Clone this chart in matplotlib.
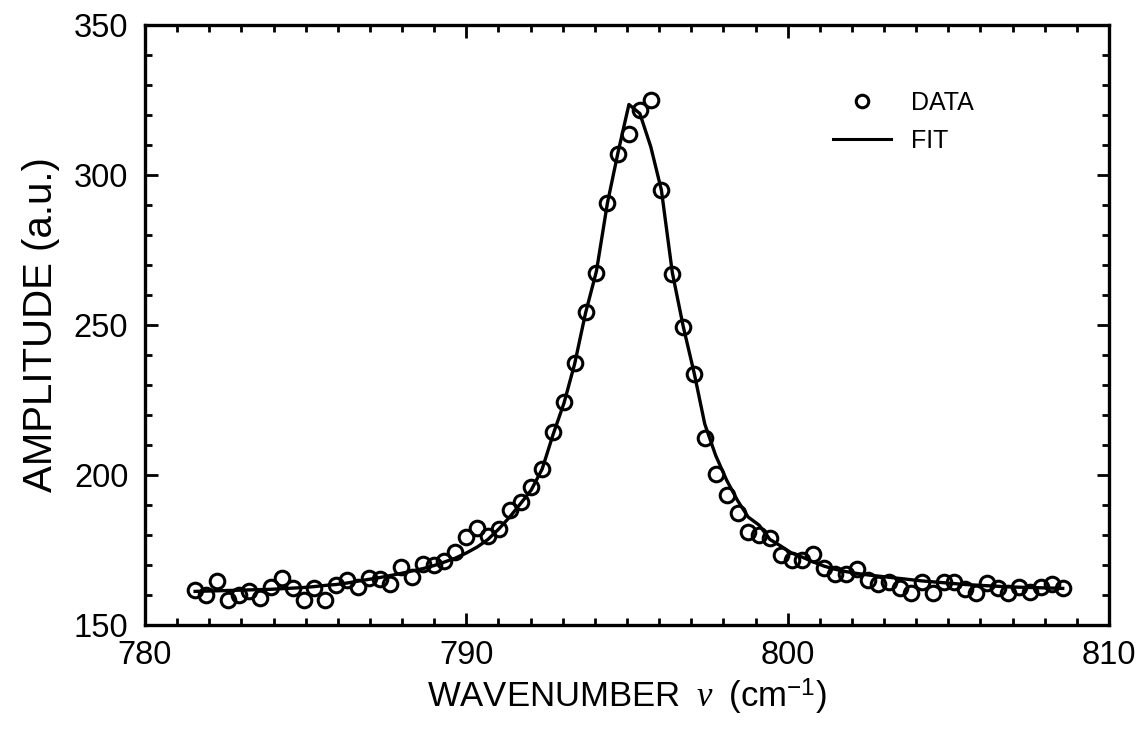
import matplotlib
matplotlib.use("Agg")
import matplotlib.pyplot as plt
from matplotlib.lines import Line2D

plt.rcParams['font.family'] = ['Liberation Sans', 'DejaVu Sans']
plt.rcParams['mathtext.fontset'] = 'custom'
plt.rcParams['mathtext.rm'] = 'Liberation Sans'
plt.rcParams['mathtext.it'] = 'Liberation Serif:italic'

# wavenumber (cm^-1) of each measured point
wavenumber = [
    781.56, 781.90, 782.24, 782.57, 782.91, 783.25, 783.59, 783.92, 784.26, 784.60,
    784.94, 785.27, 785.61, 785.95, 786.29, 786.62, 786.96, 787.30, 787.64, 787.97,
    788.31, 788.65, 788.99, 789.32, 789.66, 790.00, 790.34, 790.67, 791.01, 791.35,
    791.69, 792.02, 792.36, 792.70, 793.04, 793.37, 793.71, 794.05, 794.39, 794.72,
    795.06, 795.40, 795.74, 796.07, 796.41, 796.75, 797.09, 797.42, 797.76, 798.10,
    798.44, 798.77, 799.11, 799.45, 799.79, 800.12, 800.46, 800.80, 801.14, 801.47,
    801.81, 802.15, 802.49, 802.82, 803.16, 803.50, 803.84, 804.17, 804.51, 804.85,
    805.19, 805.52, 805.86, 806.20, 806.54, 806.87, 807.21, 807.55, 807.89, 808.22,
    808.56,
]

# measured amplitude (a.u.)
data_amplitude = [
    161.7, 160.0, 164.8, 158.2, 160.0, 161.2, 159.0, 162.7, 165.8, 162.5,
    158.3, 162.5, 158.3, 163.4, 165.0, 162.8, 165.6, 165.3, 163.8, 169.4,
    166.1, 170.2, 170.0, 171.4, 174.4, 179.4, 182.2, 179.6, 182.0, 188.3,
    191.1, 196.1, 202.1, 214.2, 224.2, 237.2, 254.4, 267.2, 290.6, 307.0,
    313.8, 321.7, 325.0, 295.0, 267.0, 249.4, 233.8, 212.2, 200.2, 193.2,
    187.2, 181.1, 180.0, 179.0, 173.3, 171.7, 171.7, 173.8, 169.1, 166.9,
    166.9, 168.7, 165.0, 163.7, 164.4, 162.2, 160.8, 164.4, 160.8, 164.4,
    164.4, 161.9, 160.8, 163.9, 162.2, 160.8, 162.8, 161.1, 162.6, 163.7,
    162.2,
]

# fitted curve, evaluated at the same wavenumbers
fit_amplitude = [
    161.2, 161.3, 161.4, 161.5, 161.6, 161.7, 161.8, 161.9, 162.1, 162.3,
    162.5, 162.8, 163.2, 163.5, 164.0, 164.6, 165.2, 165.8, 166.5, 167.2,
    168.0, 168.8, 169.8, 171.0, 172.3, 174.0, 176.0, 178.5, 182.0, 186.0,
    190.5, 195.0, 202.0, 213.5, 224.0, 237.0, 254.0, 268.0, 290.6, 307.5,
    323.5, 320.5, 309.4, 295.0, 267.5, 249.5, 234.0, 217.0, 206.5, 198.3,
    191.5, 186.0, 183.3, 178.5, 176.3, 174.0, 172.6, 171.0, 169.6, 168.6,
    167.8, 167.2, 166.7, 166.3, 165.9, 165.5, 165.1, 164.7, 164.4, 164.1,
    163.8, 163.5, 163.3, 163.1, 162.9, 162.7, 162.6, 162.5, 162.4, 162.3,
    162.2,
]

x_ticks = [780, 790, 800, 810]
y_ticks = [150, 200, 250, 300, 350]

fig = plt.figure(figsize=(11.42, 7.30), dpi=100)
ax = fig.add_axes([145 / 1142, 1 - 625 / 730, 964 / 1142, 600 / 730])

ax.plot(wavenumber, fit_amplitude, color='black', lw=2.4, zorder=2)
ax.plot(wavenumber, data_amplitude, linestyle='none', marker='o', ms=10.5,
        mfc='none', mec='black', mew=2.2, zorder=3)

ax.set_xlim(780, 810)
ax.set_ylim(150, 350)
ax.set_xticks(x_ticks)
ax.set_yticks(y_ticks)
ax.set_xticks(range(780, 811), minor=True)
ax.set_yticks(range(150, 351, 10), minor=True)

for s in ax.spines.values():
    s.set_linewidth(2.4)

ax.tick_params(which='both', direction='in', top=True, right=True,
               labelsize=23.5, width=2.0)
ax.tick_params(which='major', length=9)
ax.tick_params(which='minor', length=5)
ax.tick_params(axis='x', pad=11)
ax.tick_params(axis='y', pad=12)

ax.set_xlabel(r'WAVENUMBER $\;\nu\;$ (cm$^{-1}$)', fontsize=25, labelpad=4)
ax.set_ylabel('AMPLITUDE (a.u.)', fontsize=29, labelpad=10)

handles = [
    Line2D([], [], linestyle='none', marker='o', ms=9, mfc='none', mec='black', mew=2.2),
    Line2D([], [], color='black', lw=2.2),
]
ax.legend(handles, ['DATA', 'FIT'], loc='upper left', bbox_to_anchor=(0.714, 0.89),
          frameon=False, fontsize=18, handlelength=2.3, handletextpad=0.8,
          labelspacing=0.55, borderpad=0, borderaxespad=0)

fig.savefig('out.png', dpi=100)
